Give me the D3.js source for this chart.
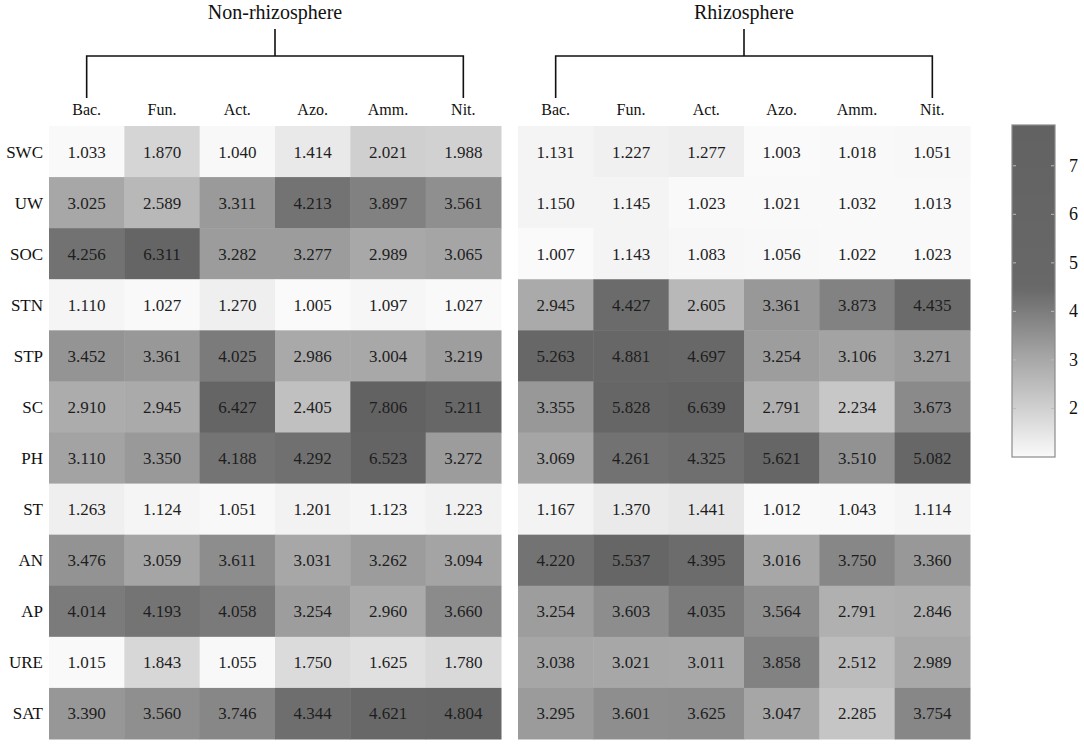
<!DOCTYPE html>
<html>
<head>
<meta charset="utf-8">
<script src="https://cdn.jsdelivr.net/npm/d3@7"></script>
<style>
  body { margin: 0; background: #fff; }
  text { font-family: "Liberation Serif", "Times New Roman", serif; }
</style>
</head>
<body>
<script>
var rows = ["SWC", "UW", "SOC", "STN", "STP", "SC", "PH", "ST", "AN", "AP", "URE", "SAT"];
var cols = ["Bac.", "Fun.", "Act.", "Azo.", "Amm.", "Nit."];
var panels = ["Non-rhizosphere", "Rhizosphere"];

var nonRhizo = [
  [1.033, 1.870, 1.040, 1.414, 2.021, 1.988],
  [3.025, 2.589, 3.311, 4.213, 3.897, 3.561],
  [4.256, 6.311, 3.282, 3.277, 2.989, 3.065],
  [1.110, 1.027, 1.270, 1.005, 1.097, 1.027],
  [3.452, 3.361, 4.025, 2.986, 3.004, 3.219],
  [2.910, 2.945, 6.427, 2.405, 7.806, 5.211],
  [3.110, 3.350, 4.188, 4.292, 6.523, 3.272],
  [1.263, 1.124, 1.051, 1.201, 1.123, 1.223],
  [3.476, 3.059, 3.611, 3.031, 3.262, 3.094],
  [4.014, 4.193, 4.058, 3.254, 2.960, 3.660],
  [1.015, 1.843, 1.055, 1.750, 1.625, 1.780],
  [3.390, 3.560, 3.746, 4.344, 4.621, 4.804]
];

var rhizo = [
  [1.131, 1.227, 1.277, 1.003, 1.018, 1.051],
  [1.150, 1.145, 1.023, 1.021, 1.032, 1.013],
  [1.007, 1.143, 1.083, 1.056, 1.022, 1.023],
  [2.945, 4.427, 2.605, 3.361, 3.873, 4.435],
  [5.263, 4.881, 4.697, 3.254, 3.106, 3.271],
  [3.355, 5.828, 6.639, 2.791, 2.234, 3.673],
  [3.069, 4.261, 4.325, 5.621, 3.510, 5.082],
  [1.167, 1.370, 1.441, 1.012, 1.043, 1.114],
  [4.220, 5.537, 4.395, 3.016, 3.750, 3.360],
  [3.254, 3.603, 4.035, 3.564, 2.791, 2.846],
  [3.038, 3.021, 3.011, 3.858, 2.512, 2.989],
  [3.295, 3.601, 3.625, 3.047, 2.285, 3.754]
];

var legendTicks = [2, 3, 4, 5, 6, 7];
var legendRange = [1.0, 7.84];

var w = 1084;
var h = 744;
var gridTop = 126;
var gridBottom = 739;
var panelX = [[49, 501], [518, 970]];

var svg = d3.select("body")
            .append("svg")
            .attr("width", w)
            .attr("height", h);

// grey ramp: white at 1, saturates to dark grey past ~4.5
var color = d3.scaleLinear()
  .domain([1, 2, 3, 4, 4.5, 7.84])
  .range(["#fafafa", "#d0d0d0", "#a8a8a8", "#7c7c7c", "#686868", "#626262"])
  .clamp(true);

var y = d3.scaleBand()
  .domain(rows)
  .range([gridTop, gridBottom]);

[nonRhizo, rhizo].forEach(function(data, p) {
  var x = d3.scaleBand()
    .domain(cols)
    .range(panelX[p]);

  var cells = [];
  data.forEach(function(r, i) {
    r.forEach(function(v, j) {
      cells.push({row: rows[i], col: cols[j], v: v});
    });
  });

  var g = svg.append("g");

  g.selectAll("rect")
    .data(cells)
    .enter()
    .append("rect")
    .attr("x", function(d) { return x(d.col); })
    .attr("y", function(d) { return y(d.row); })
    .attr("width", x.bandwidth() + 0.5)
    .attr("height", y.bandwidth() + 0.5)
    .attr("fill", function(d) { return color(d.v); });

  g.selectAll(".val")
    .data(cells)
    .enter()
    .append("text")
    .attr("class", "val")
    .text(function(d) { return d.v.toFixed(3); })
    .attr("x", function(d) { return x(d.col) + x.bandwidth() / 2; })
    .attr("y", function(d) { return y(d.row) + y.bandwidth() / 2 + 6; })
    .attr("text-anchor", "middle")
    .attr("font-size", 17)
    .attr("fill", "#1e1e1e");

  g.selectAll(".col")
    .data(cols)
    .enter()
    .append("text")
    .attr("class", "col")
    .text(function(d) { return d; })
    .attr("x", function(d) { return x(d) + x.bandwidth() / 2; })
    .attr("y", 115)
    .attr("text-anchor", "middle")
    .attr("font-size", 16)
    .attr("fill", "#111");

  // bracket over the panel
  var x0 = x(cols[0]) + x.bandwidth() / 2;
  var x1 = x(cols[cols.length - 1]) + x.bandwidth() / 2;
  var xm = (x0 + x1) / 2;
  var path = d3.path();
  path.moveTo(x0, 98);
  path.lineTo(x0, 56);
  path.lineTo(x1, 56);
  path.lineTo(x1, 98);
  path.moveTo(xm, 56);
  path.lineTo(xm, 29);
  g.append("path")
    .attr("d", path.toString())
    .attr("fill", "none")
    .attr("stroke", "#111")
    .attr("stroke-width", 1.6);

  g.append("text")
    .text(panels[p])
    .attr("x", xm)
    .attr("y", 19)
    .attr("text-anchor", "middle")
    .attr("font-size", 20)
    .attr("fill", "#111");
});

svg.selectAll(".row")
  .data(rows)
  .enter()
  .append("text")
  .attr("class", "row")
  .text(function(d) { return d; })
  .attr("x", 43)
  .attr("y", function(d) { return y(d) + y.bandwidth() / 2 + 6; })
  .attr("text-anchor", "end")
  .attr("font-size", 17)
  .attr("fill", "#111");

// colour bar
var lx = 1012;
var lw = 43;
var ly = d3.scaleLinear()
  .domain(legendRange)
  .range([457, 125]);

var grad = svg.append("defs")
  .append("linearGradient")
  .attr("id", "bar")
  .attr("x1", 0).attr("y1", 1)
  .attr("x2", 0).attr("y2", 0);

grad.selectAll("stop")
  .data(d3.range(0, 1.0001, 0.02))
  .enter()
  .append("stop")
  .attr("offset", function(t) { return t; })
  .attr("stop-color", function(t) {
    return color(legendRange[0] + t * (legendRange[1] - legendRange[0]));
  });

svg.append("rect")
  .attr("x", lx)
  .attr("y", ly(legendRange[1]))
  .attr("width", lw)
  .attr("height", ly(legendRange[0]) - ly(legendRange[1]))
  .attr("fill", "url(#bar)")
  .attr("stroke", "#8a8a8a")
  .attr("stroke-width", 1.2);

svg.selectAll(".tickl")
  .data(legendTicks)
  .enter()
  .append("line")
  .attr("class", "tickl")
  .attr("x1", lx + 1).attr("x2", lx + 4)
  .attr("y1", function(d) { return ly(d); })
  .attr("y2", function(d) { return ly(d); })
  .attr("stroke", "#bbb");

svg.selectAll(".tickr")
  .data(legendTicks)
  .enter()
  .append("line")
  .attr("class", "tickr")
  .attr("x1", lx + lw - 4).attr("x2", lx + lw - 1)
  .attr("y1", function(d) { return ly(d); })
  .attr("y2", function(d) { return ly(d); })
  .attr("stroke", "#bbb");

svg.selectAll(".ticklab")
  .data(legendTicks)
  .enter()
  .append("text")
  .attr("class", "ticklab")
  .text(function(d) { return d; })
  .attr("x", 1069)
  .attr("y", function(d) { return ly(d) + 6; })
  .attr("font-size", 18)
  .attr("fill", "#111");
</script>
</body>
</html>
